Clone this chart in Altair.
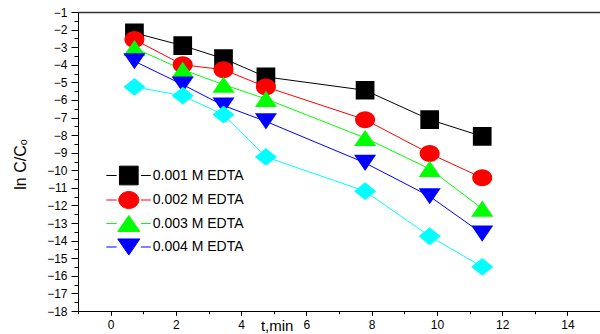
import altair as alt
import pandas as pd

# ---- data ----
t_min = [0.73, 2.21, 3.46, 4.76, 7.80, 9.78, 11.39]
series_names = ["0.001 M EDTA", "0.002 M EDTA", "0.003 M EDTA", "0.004 M EDTA", "0.005 M EDTA"]
ln_001 = [-2.19, -2.91, -3.65, -4.69, -5.45, -7.12, -8.07]
ln_002 = [-2.57, -4.00, -4.28, -5.26, -7.12, -9.05, -10.43]
ln_003 = [-3.05, -4.28, -5.13, -5.94, -8.16, -9.92, -12.18]
ln_004 = [-3.80, -5.13, -6.32, -7.22, -9.58, -11.48, -13.60]
ln_005 = [-5.26, -5.76, -6.84, -9.24, -11.19, -13.75, -15.49]
legend_names = series_names[:4]

x_major = [0, 2, 4, 6, 8, 10, 12, 14]
x_minor = list(range(-1, 16))
y_major = list(range(-18, 0))
y_minor = [v + 0.5 for v in range(-18, -1)]

colors = ["#000000", "#ff0000", "#00ff00", "#0000ff", "#00ffff"]

# marker outlines (unit coords) with short legend stubs that only show when stroked
stub = "M-2.4,0H-1.3M1.3,0H2.35"
shape_paths = [
    stub + "M-1,-1H1V1H-1Z",
    stub + "M-1.07,0C-1.07,-0.503 -0.591,-0.91 0,-0.91C0.591,-0.91 1.07,-0.503 1.07,0"
           "C1.07,0.503 0.591,0.91 0,0.91C-0.591,0.91 -1.07,0.503 -1.07,0Z",
    stub + "M0,-0.86L1.18,0.86L-1.18,0.86Z",
    stub + "M0,0.86L1.18,-0.86L-1.18,-0.86Z",
    stub + "M-1.18,0L0,-0.95L1.18,0L0,0.95Z",
]

rows = []
for name, vals in zip(series_names, [ln_001, ln_002, ln_003, ln_004, ln_005]):
    for t, v in zip(t_min, vals):
        rows.append({"series": name, "t": t, "value": v})
df = pd.DataFrame(rows)

FONT = "Liberation Sans"
xs = alt.Scale(domain=[-1, 15], nice=False, zero=False)
ys = alt.Scale(domain=[-18, -1], nice=False, zero=False)
cs = alt.Scale(domain=series_names, range=colors)
ss = alt.Scale(domain=series_names, range=shape_paths)

leg = alt.Legend(
    title=None, orient="none", legendX=40.8, legendY=153.5, values=legend_names,
    symbolSize=350, symbolStrokeWidth=1, labelFont=FONT,
    labelFontSize=14, labelColor="black", labelOffset=14, rowPadding=1.5, padding=0,
)

base = alt.Chart(df)

line_layers = [
    base.transform_filter(alt.datum.series == name)
    .mark_line(strokeWidth=1, color=col)
    .encode(x=alt.X("t:Q", scale=xs, axis=None), y=alt.Y("value:Q", scale=ys, axis=None))
    for name, col in zip(series_names, colors)
]

points = base.mark_point(filled=True, opacity=1, size=350).encode(
    x=alt.X("t:Q", scale=xs, axis=alt.Axis(
        orient="bottom", values=x_major, tickSize=4.3, labelPadding=4, labelFontSize=12,
        labelFont=FONT, labelColor="black", domainColor="black", tickColor="black",
        grid=False, title="t,min", titleFont=FONT, titleFontSize=15, titleFontWeight="normal",
        titleColor="black", titleX=198.7, titleY=19, titleBaseline="alphabetic",
        titleAlign="center", labelFlush=False)),
    y=alt.Y("value:Q", scale=ys, axis=alt.Axis(
        orient="left", values=y_major, tickSize=7, labelPadding=4, labelFontSize=12,
        labelFont=FONT, labelColor="black", domainColor="black", tickColor="black",
        grid=False, title="ln C/Cₒ", titleFont=FONT, titleFontSize=16,
        titleFontWeight="normal", titleColor="black", titleAngle=270, titleX=-53,
        titleY=152, titleBaseline="alphabetic", titleAlign="center", labelFlush=False)),
    fill=alt.Fill("series:N", scale=cs, legend=leg),
    stroke=alt.Stroke("series:N", scale=cs, legend=leg),
    shape=alt.Shape("series:N", scale=ss, legend=leg),
    strokeWidth=alt.value(0),
)

minor_axes = base.mark_point(opacity=0).encode(
    x=alt.X("t:Q", scale=xs, axis=alt.Axis(
        orient="bottom", values=x_minor, tickSize=2.7, labels=False, domain=False,
        tickColor="black", grid=False, title=None)),
    y=alt.Y("value:Q", scale=ys, axis=alt.Axis(
        orient="left", values=y_minor, tickSize=4, labels=False, domain=False,
        tickColor="black", grid=False, title=None)),
)

frame_top = base.mark_point(opacity=0).encode(
    x=alt.X("t:Q", scale=xs, axis=alt.Axis(
        orient="top", ticks=False, labels=False, domain=True, domainColor="#333333",
        domainWidth=1.3, grid=False, title=None)),
    y=alt.Y("value:Q", scale=ys, axis=None),
)

chart = (
    alt.layer(*line_layers, points, minor_axes, frame_top)
    .resolve_axis(x="independent", y="independent")
    .properties(
        width=522, height=299,
        autosize=alt.AutoSizeParams(type="none"),
        padding={"left": 78, "top": 12, "right": 0, "bottom": 23},
        background="white",
    )
    .configure_view(strokeWidth=0)
)

chart.save("out.html", embed_options={"renderer": "svg", "actions": False})
